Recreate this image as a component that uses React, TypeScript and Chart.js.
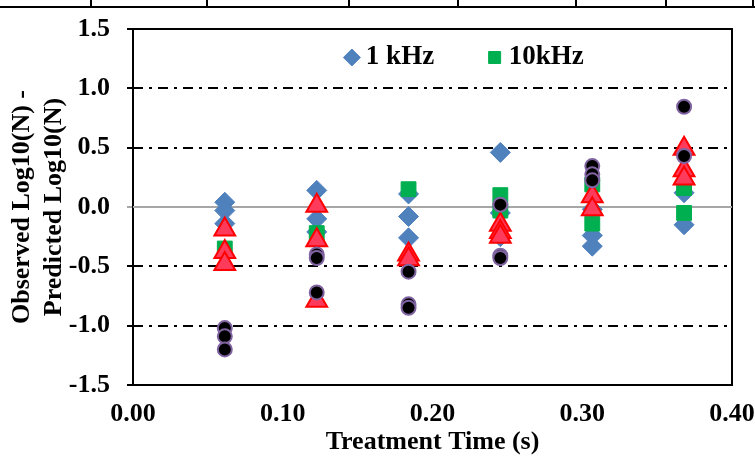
import React, { useEffect, useRef } from "react";
import { Chart, registerables } from "chart.js";

Chart.register(...registerables);

// Treatment times (s) of the six measurement groups
const times = [0.0613, 0.1227, 0.184, 0.2453, 0.3067, 0.368];
const xTicks = [0, 0.1, 0.2, 0.3, 0.4];
const yTicks = [-1.5, -1.0, -0.5, 0.0, 0.5, 1.0, 1.5];
const seriesNames = ["1 kHz", "10kHz", "Series 3", "Series 4"];

// residuals (observed - predicted log10 N), one list per treatment time
const khz1 = [
  [0.04, -0.03, -0.14],
  [0.14, -0.1, -0.21],
  [0.11, -0.08, -0.26],
  [0.46, -0.05, -0.25],
  [-0.02, -0.24, -0.33],
  [0.12, -0.15],
];
const khz10 = [
  [-0.35],
  [-0.22],
  [0.15],
  [0.1, -0.03],
  [0.19, -0.14],
  [0.16, -0.05],
];
const series3 = [
  [-0.19, -0.38, -0.48],
  [0.01, -0.28, -0.79],
  [-0.4, -0.44],
  [-0.15, -0.21, -0.25],
  [0.09, -0.02],
  [0.49, 0.31, 0.24],
];
const series4 = [
  [-1.02, -1.09, -1.2],
  [-0.4, -0.43, -0.72],
  [-0.545, -0.82, -0.85],
  [0.02, -0.41, -0.43],
  [0.345, 0.275, 0.225],
  [0.845, 0.43],
];

const toPoints = (vals: number[][]) =>
  vals.flatMap((col, i) => col.map((v) => ({ x: times[i], y: v })));

const FONT = "'Liberation Serif', 'Times New Roman', serif";

const framePlugin = {
  id: "frame",
  beforeDatasetsDraw(chart: any) {
    const { ctx, chartArea } = chart;
    ctx.save();
    ctx.strokeStyle = "#000";
    ctx.lineWidth = 2;
    ctx.strokeRect(chartArea.left, chartArea.top, chartArea.right - chartArea.left, chartArea.bottom - chartArea.top);
    ctx.restore();
  },
};

// move the (1px high) legend box down into the plot area and open its clip box
const legendShift = {
  id: "legendShift",
  afterLayout(chart: any) {
    const l = chart.legend;
    if (!l) return;
    const dx = 35;
    const dy = -44;
    l.left += dx;
    l.right += dx;
    l.top += dy;
    l.bottom = l.top + 120;
  },
};

export default function App() {
  const ref = useRef<HTMLCanvasElement | null>(null);

  useEffect(() => {
    if (!ref.current) return;
    const chart = new Chart(ref.current, {
      type: "scatter",
      data: {
        datasets: [
          {
            label: seriesNames[0],
            data: toPoints(khz1),
            pointStyle: "rectRot",
            pointRadius: 10,
            backgroundColor: "#4F81BD",
            borderColor: "#4F81BD",
            borderWidth: 1,
            order: 4,
          },
          {
            label: seriesNames[1],
            data: toPoints(khz10),
            pointStyle: "rect",
            pointRadius: 10.5,
            backgroundColor: "#00B050",
            borderColor: "#00B050",
            borderWidth: 1,
            order: 3,
          },
          {
            label: seriesNames[2],
            data: toPoints(series3),
            pointStyle: "triangle",
            pointRadius: 12,
            backgroundColor: "#FF3B5C",
            borderColor: "#FF0000",
            borderWidth: 2,
            order: 2,
          },
          {
            label: seriesNames[3],
            data: toPoints(series4),
            pointStyle: "circle",
            pointRadius: 7,
            backgroundColor: "#000000",
            borderColor: "#8064A2",
            borderWidth: 2,
            order: 1,
          },
          {
            label: "zero",
            data: [
              { x: xTicks[0], y: 0 },
              { x: xTicks[xTicks.length - 1], y: 0 },
            ],
            showLine: true,
            pointRadius: 0,
            borderColor: "#A6A6A6",
            borderWidth: 2,
            order: 5,
          } as any,
        ],
      },
      options: {
        responsive: false,
        animation: false,
        events: [],
        layout: { padding: { top: 28, right: 23, bottom: 0, left: 0 } },
        plugins: {
          tooltip: { enabled: false },
          legend: {
            position: "top",
            align: "center",
            fullSize: false,
            maxHeight: 1,
            labels: {
              usePointStyle: true,
              boxWidth: 1,
              boxHeight: 12,
              padding: 60,
              color: "#000",
              font: { family: FONT, size: 27, weight: "bold" },
              filter: (item: any) => item.datasetIndex < 2,
              sort: (a: any, b: any) => a.datasetIndex - b.datasetIndex,
            },
          } as any,
        },
        scales: {
          x: {
            type: "linear",
            min: xTicks[0],
            max: xTicks[xTicks.length - 1],
            afterBuildTicks: (s: any) => {
              s.ticks = xTicks.map((v) => ({ value: v }));
            },
            afterFit: (s: any) => {
              s.height = 74;
            },
            grid: { display: false, drawTicks: true, tickLength: 14, tickColor: "rgba(0,0,0,0)" },
            border: { display: false },
            ticks: {
              padding: 0,
              color: "#000",
              font: { family: FONT, size: 26, weight: "bold" },
              callback: (v: any) => Number(v).toFixed(2),
            },
            title: {
              display: true,
              text: "Treatment Time (s)",
              color: "#000",
              font: { family: FONT, size: 26, weight: "bold", lineHeight: 1.2 },
              padding: { top: 0, bottom: 1 },
            },
          },
          y: {
            type: "linear",
            min: yTicks[0],
            max: yTicks[yTicks.length - 1],
            afterBuildTicks: (s: any) => {
              s.ticks = yTicks.map((v) => ({ value: v }));
            },
            afterFit: (s: any) => {
              s.width = 133;
            },
            grid: {
              color: (c: any) =>
                c.tick && Math.abs(c.tick.value) > 0.01 && Math.abs(c.tick.value) < 1.4 ? "#000" : "rgba(0,0,0,0)",
              lineWidth: 2,
              tickColor: (c: any) => (c.tick && Math.abs(c.tick.value) < 0.01 ? "#A6A6A6" : "#000"),
              tickLength: 6,
              tickWidth: 2,
              drawTicks: true,
            },
            border: { display: false, dash: [10, 6, 3, 6] },
            ticks: {
              padding: 17,
              color: "#000",
              font: { family: FONT, size: 26, weight: "bold", lineHeight: 0.9 },
              callback: (v: any) => Number(v).toFixed(1),
            },
            title: {
              display: true,
              text: ["Observed Log10(N) -", "Predicted Log10(N)"],
              color: "#000",
              font: { family: FONT, size: 26, weight: "bold", lineHeight: 1.2 },
              padding: { top: 7, bottom: 0 },
            },
          },
        },
      },
      plugins: [framePlugin, legendShift],
    });
    return () => chart.destroy();
  }, []);

  const topCells = [91, 207, 349, 458, 576, 666, 753];

  return (
    <div style={{ position: "fixed", left: 0, top: 0, width: 755, height: 459, background: "#fff" }}>
      <div style={{ position: "absolute", left: 0, top: 6, width: 755, height: 0, borderTop: "2px solid #000" }} />
      {topCells.map((x) => (
        <div key={x} style={{ position: "absolute", left: x - 1, top: 0, width: 0, height: 7, borderLeft: "2px solid #000" }} />
      ))}
      <canvas ref={ref} width={755} height={459} style={{ position: "absolute", left: 0, top: 0, width: 755, height: 459 }} />
    </div>
  );
}
